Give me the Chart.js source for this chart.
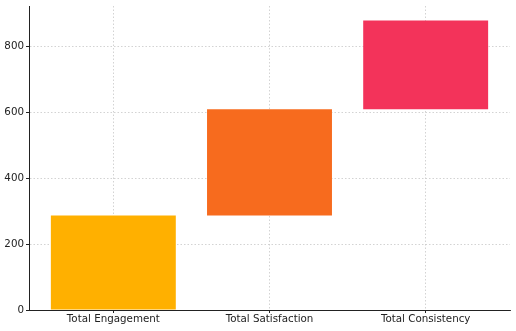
<!DOCTYPE html>
<html>
<head>
<meta charset="utf-8">
<script src="https://cdn.jsdelivr.net/npm/chart.js@4/dist/chart.umd.min.js"></script>
<style>
  html, body { margin: 0; padding: 0; background: #fff; }
  #wrap { width: 516px; height: 331px; }
</style>
</head>
<body>
<div id="wrap"><canvas id="waterfall" width="516" height="331"></canvas></div>
<script>
// waterfall data
const categories = ['Total Engagement', 'Total Satisfaction', 'Total Consistency'];
const barBottoms = [0, 287, 610];
const barTops    = [287, 610, 880];
const barColors  = ['#FFB000', '#F76B1E', '#F3335A'];
const yTicks     = [0, 200, 400, 600, 800];

const font = { family: 'DejaVu Sans', size: 10.3 };
const gridColor = '#c8c8c8';
const axisColor = '#222';

const points = categories.map((c, i) => ({ x: i, y: [barBottoms[i], barTops[i]] }));

new Chart(document.getElementById('waterfall').getContext('2d'), {
  type: 'bar',
  data: {
    datasets: [{
      data: points,
      backgroundColor: barColors,
      borderWidth: 0,
      categoryPercentage: 0.8,
      barPercentage: 1
    }]
  },
  options: {
    responsive: false,
    animation: false,
    layout: { padding: { top: 6, right: 6, left: 0, bottom: 0 } },
    plugins: { legend: { display: false }, tooltip: { enabled: false } },
    scales: {
      x: {
        type: 'linear',
        min: -0.54,
        max: categories.length - 1 + 0.54,
        offset: false,
        z: 1,
        afterBuildTicks: s => { s.ticks = categories.map((c, i) => ({ value: i })); },
        afterFit: s => { s.height = 21; },
        ticks: {
          font, color: axisColor, padding: 0,
          maxRotation: 0, autoSkip: false,
          callback: v => categories[v]
        },
        grid: {
          offset: false,
          color: gridColor, lineWidth: 0.8,
          drawTicks: true, tickLength: 3, tickColor: axisColor,
          tickBorderDash: [], tickWidth: 1
        },
        border: { display: true, color: axisColor, width: 1, dash: [1.5, 2] }
      },
      y: {
        min: 0,
        max: 924,
        z: 1,
        afterBuildTicks: s => { s.ticks = yTicks.map(v => ({ value: v })); },
        afterFit: s => { s.width = 29; s.paddingTop = 0; },
        ticks: { font, color: axisColor, padding: 2 },
        grid: {
          color: gridColor, lineWidth: 0.8,
          drawTicks: true, tickLength: 3, tickColor: axisColor,
          tickBorderDash: [], tickWidth: 1
        },
        border: { display: true, color: axisColor, width: 1, dash: [1.5, 2] }
      }
    }
  }
});
</script>
</body>
</html>
